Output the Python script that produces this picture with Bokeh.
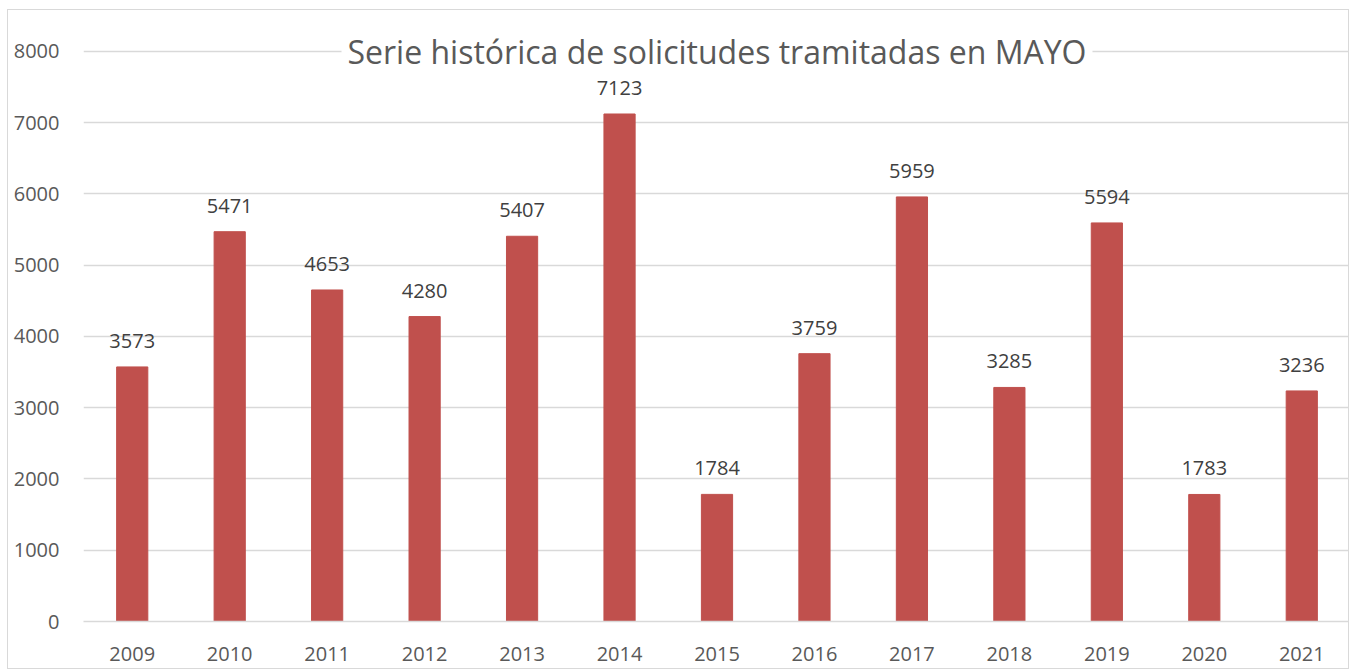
from bokeh.plotting import figure
from bokeh.models import Range1d, Label, LabelSet, ColumnDataSource, FactorRange, FixedTicker
from bokeh.core.properties import value
from bokeh.embed import file_html
from bokeh.resources import INLINE

years = ["2009", "2010", "2011", "2012", "2013", "2014", "2015",
         "2016", "2017", "2018", "2019", "2020", "2021"]
solicitudes = [3573, 5471, 4653, 4280, 5407, 7123, 1784,
               3759, 5959, 3285, 5594, 1783, 3236]
y_ticks = [0, 1000, 2000, 3000, 4000, 5000, 6000, 7000, 8000]
title_text = "Serie histórica de solicitudes tramitadas en MAYO"

FONT = "Open Sans"

src = ColumnDataSource(dict(year=years, value=solicitudes,
                            label=[str(v) for v in solicitudes]))

p = figure(x_range=FactorRange(factors=years), y_range=Range1d(0, 8407),
           width=1342, height=660, output_backend="svg", toolbar_location=None,
           min_border_left=75, min_border_right=0, min_border_top=12,
           min_border_bottom=49)

p.vbar(x="year", top="value", width=0.32, source=src,
       fill_color="#C0504D", line_color="#C0504D")

labels = LabelSet(x="year", y="value", text="label", source=src,
                  y_offset=19, text_align="center", text_baseline="bottom",
                  text_font=value(FONT), text_font_size="20px",
                  text_color="#404040")
p.add_layout(labels)

title = Label(x=6.5, y=8000, text=title_text, text_align="center",
              text_baseline="middle", text_font=FONT, text_font_size="32px",
              text_color="#595959", background_fill_color="white",
              padding=6)
p.add_layout(title)

p.yaxis.ticker = FixedTicker(ticks=y_ticks)
p.yaxis.axis_line_color = None
p.yaxis.major_tick_line_color = None
p.yaxis.minor_tick_line_color = None
p.yaxis.major_label_standoff = 18
p.yaxis.major_label_text_font = FONT
p.yaxis.major_label_text_font_size = "20px"
p.yaxis.major_label_text_color = "#595959"

p.xaxis.axis_line_color = "#D9D9D9"
p.xaxis.axis_line_width = 1.5
p.xaxis.major_tick_line_color = None
p.xaxis.minor_tick_line_color = None
p.xaxis.major_label_standoff = 19
p.xaxis.major_label_text_font = FONT
p.xaxis.major_label_text_font_size = "20px"
p.xaxis.major_label_text_color = "#595959"

p.xgrid.grid_line_color = None
p.ygrid.grid_line_color = "#D9D9D9"
p.ygrid.grid_line_width = 1.5
p.outline_line_color = None
p.styles = {"border": "1px solid #D9D9D9", "margin-left": "7px", "margin-top": "9px"}

open("out.html", "w").write(file_html(p, INLINE))
